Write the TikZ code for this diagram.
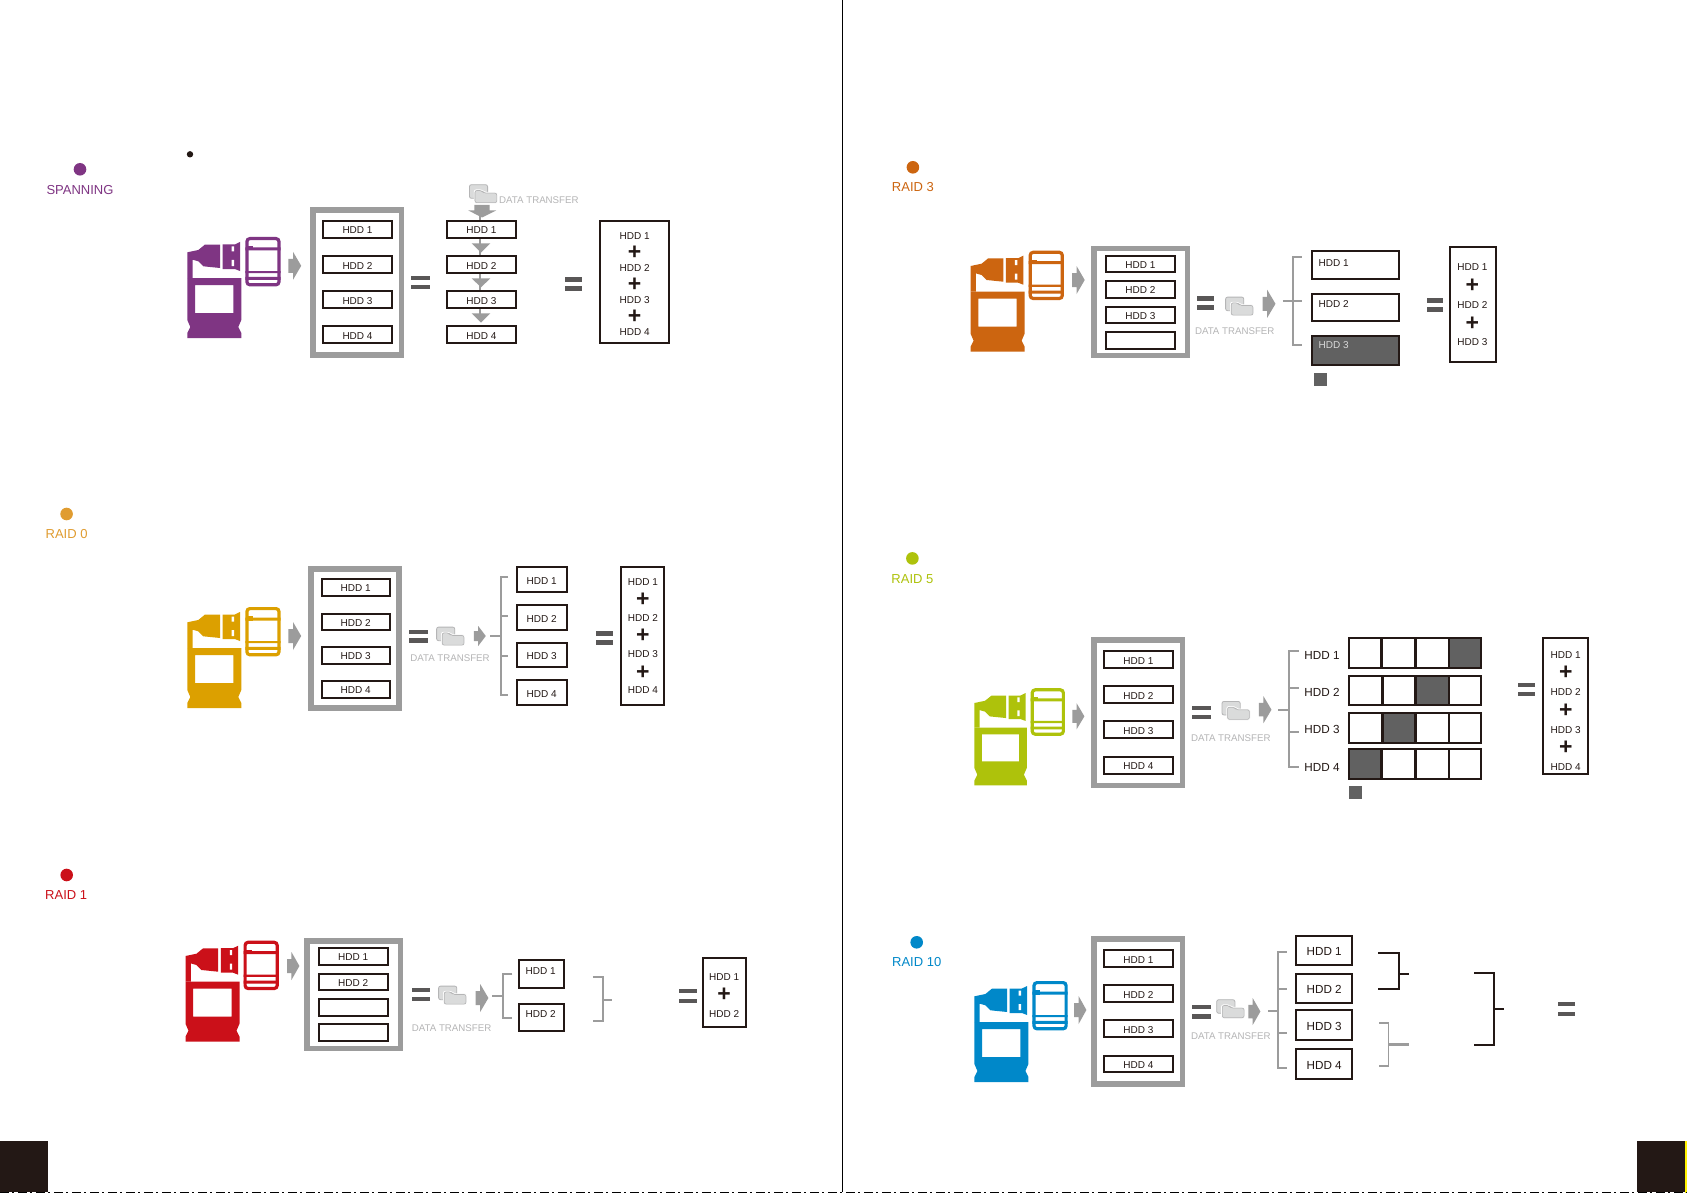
\documentclass[tikz,border=0pt]{standalone}
\usepackage{fontspec}
\setmainfont{Liberation Sans}
\usetikzlibrary{calc}
\definecolor{cpurple}{HTML}{7F3583}
\definecolor{cgold}{HTML}{DCA000}
\definecolor{cgoldlt}{HTML}{E09C30}
\definecolor{cred}{HTML}{CB1019}
\definecolor{corange}{HTML}{CC6510}
\definecolor{clime}{HTML}{AEC20B}
\definecolor{cblue}{HTML}{0088C9}
\definecolor{inkk}{HTML}{231815}
\definecolor{gframe}{HTML}{9C9C9C}
\definecolor{geq}{HTML}{595757}
\definecolor{gdark}{HTML}{616161}
\definecolor{gtext}{HTML}{B5B5B6}
\definecolor{gfold}{HTML}{DADBDB}
\tikzset{
  hddbox/.style={draw=inkk,line width=2pt,fill=white,inner sep=0pt,outer sep=0pt,text=inkk,text height=8.6pt,text depth=0pt,font=\fontsize{10}{12}\selectfont},
  darkbox/.style={hddbox,fill=gdark},
  frameb/.style={draw=gframe,line width=5.5pt,fill=white,inner sep=0pt,outer sep=0pt},
  hddtext/.style={inner sep=0pt,text=inkk,text height=8.6pt,text depth=0pt,font=\fontsize{10}{12}\selectfont},
  hddbig/.style={inner sep=0pt,text=inkk,text height=10pt,text depth=0pt,font=\fontsize{11.7}{13}\selectfont},
  plustext/.style={inner sep=0pt,text=inkk,yshift=-1pt,font=\fontsize{23}{24}\selectfont\bfseries},
  dttext/.style={inner sep=0pt,text=gtext,text height=8.2pt,text depth=0pt,font=\fontsize{9.7}{11}\selectfont},
  sectlabel/.style={inner sep=0pt,text height=11pt,text depth=0pt,font=\fontsize{13}{15}\selectfont},
  sectdot/.style={circle,inner sep=0pt,minimum size=12.6pt},
  garr/.style={fill=gframe,draw=none},
  eqbar/.style={fill=geq,draw=none},
  gbr/.style={draw=gframe,line width=2pt},
  kbr/.style={draw=inkk,line width=1.8pt},
}
% box from outer corners: name, x1,y1,x2,y2, style, text
\newcommand{\bx}[7]{%
  \pgfmathsetmacro{\bxw}{#4-#2-2}\pgfmathsetmacro{\bxh}{#5-#3-2}%
  \node[#6,minimum width=\bxw pt,minimum height=\bxh pt] (#1) at ({(#2+#4)/2},{(#3+#5)/2}) {#7};}
\newcommand{\frm}[5]{%
  \pgfmathsetmacro{\bxw}{#4-#2-5.5}\pgfmathsetmacro{\bxh}{#5-#3-5.5}%
  \node[frameb,minimum width=\bxw pt,minimum height=\bxh pt] (#1) at ({(#2+#4)/2},{(#3+#5)/2}) {};}
% right-pointing block arrow: x1,x2,cy,full height
\newcommand{\garrow}[4]{%
  \fill[garr] (#1,#3-#4/4) -- ({#1+0.36*(#2-#1)},#3-#4/4) -- ({#1+0.36*(#2-#1)},#3-#4/2) -- (#2,#3) -- ({#1+0.36*(#2-#1)},#3+#4/2) -- ({#1+0.36*(#2-#1)},#3+#4/4) -- (#1,#3+#4/4) -- cycle;}
% equal sign: x1,x2,y1,y2,y3,y4
\newcommand{\eqs}[6]{\fill[eqbar] (#1,#3) rectangle (#2,#4); \fill[eqbar] (#1,#5) rectangle (#2,#6);}
% folders at top-left
\newcommand{\folder}[2]{%
  \begin{scope}[shift={(#1,#2)}]
    \draw[fill=gfold,draw=gtext,line width=.8pt,rounded corners=2pt] (.4,.4) rectangle (18.6,14);
    \draw[fill=gfold,draw=white,line width=.8pt,rounded corners=2pt] (5.2,5.5) -- (13,5.5) -- (15,8) -- (28.4,8) -- (28.4,19) -- (5.2,19) -- cycle;
    \draw[draw=gtext,line width=.6pt,rounded corners=2pt] (6,6.2) -- (13,6.2) -- (14.6,8.8) -- (27.8,8.8) -- (27.8,18.4) -- (6,18.4) -- cycle;
  \end{scope}}
% computer + usb + device icon: colour,x,y,xscale,yscale
\newcommand{\icon}[5]{%
  \begin{scope}[shift={(#2,#3)},xscale=#4,yscale=#5]
    \fill[#1,even odd rule] (0,41) -- (54,41) -- (54,83) -- (51,90) -- (54,96) -- (54,101) -- (0,101) -- (0,96) -- (3,90) -- (0,83) -- cycle
      (7.7,48) rectangle (46,76);
    \fill[#1] (0,15.3) -- (11,13) -- (17.5,7.7) -- (32.7,7.7) -- (32.7,31) -- (16,29.3) -- (11,24.3) -- (5.3,22.7) -- (5.3,41) -- (0,41) -- cycle;
    \fill[#1] (35.3,7.5) -- (47.5,7.5) -- (52.7,5) -- (52.7,34) -- (47.5,32) -- (35.3,32) -- cycle;
    \fill[white] (44.3,9.5) rectangle (46.7,14.5) (44.3,23) rectangle (46.7,29);
    \draw[#1,line width=3.2pt,rounded corners=3pt] (59.6,1.6) rectangle (91.7,47.8);
    \fill[#1] (58,10.5) rectangle (93.3,13.5) (58,34) rectangle (93.3,36.2) (58,39.8) rectangle (93.3,42.9);
    \fill[#1] (60,9) rectangle (66,13.5);
  \end{scope}}
\newcommand{\lbl}[5]{\node[#4] (#1) at (#2,#3) {#5};}
\begin{document}
\begin{tikzpicture}[x=1pt,y=-1pt]
\path[use as bounding box,fill=white] (0,0) rectangle (1687,1193);
% page furniture
\coordinate (midT) at (842.3,0); \coordinate (midB) at (842.3,1192);
\draw[black,line width=1.1pt] (midT) -- (midB);
\node[fill=inkk,inner sep=0pt,minimum width=47.8pt,minimum height=51pt,anchor=north west] (pageL) at (0,1141) {};
\node[fill=inkk,inner sep=0pt,minimum width=48.3pt,minimum height=51pt,anchor=north west] (pageR) at (1637,1141) {};
\fill[yellow] (1685.3,1141) rectangle (1687,1193);
\coordinate (botL) at (0,1192.5); \coordinate (botR) at (1687,1192.5);
\draw[black,line width=1pt,dash pattern=on 9pt off 3pt on 2pt off 4pt] (botL) -- (botR);

%% ---------- SPANNING
\node[sectdot,fill=cpurple] (spDot) at (80,169.3) {};
\node[sectlabel,text=cpurple] (spLab) at (80,189) {SPANNING};
\node[circle,fill=inkk,inner sep=0pt,minimum size=6.4pt] (spBul) at (190,154.3) {};
\icon{cpurple}{187.3}{237}{1}{1}
\garrow{288.4}{301.2}{265.8}{28}
\frm{spF}{310}{207.3}{404}{357.7}
\bx{spA1}{322.4}{220}{392.6}{239.3}{hddbox}{HDD 1}
\bx{spA2}{322.4}{255.3}{392.6}{274.3}{hddbox}{HDD 2}
\bx{spA3}{322.4}{290.3}{392.6}{309.3}{hddbox}{HDD 3}
\bx{spA4}{322.4}{325.3}{392.6}{344.3}{hddbox}{HDD 4}
\eqs{411}{430.3}{276}{280}{285}{289.3}
\folder{469}{184.3}
\node[dttext,anchor=west] (spDT) at (499,199.3) {DATA TRANSFER};
\draw[gframe,line width=2pt] (480.3,205) -- (480.3,316);
\fill[garr] (474.4,205) -- (489.5,205) -- (489.5,210.5) -- (496,210.5) -- (482,217.5) -- (468.4,210.5) -- (474.4,210.5) -- cycle;
\bx{spB1}{446.3}{220}{516.6}{239.3}{hddbox}{HDD 1}
\bx{spB2}{446.3}{255.3}{516.6}{274.3}{hddbox}{HDD 2}
\bx{spB3}{446.3}{290.3}{516.6}{309.3}{hddbox}{HDD 3}
\bx{spB4}{446.3}{325.3}{516.6}{344.3}{hddbox}{HDD 4}
\fill[garr] (471.6,243.3) -- (490.4,243.3) -- (481,252.7) -- cycle;
\fill[garr] (471.6,278.3) -- (490.4,278.3) -- (481,287.3) -- cycle;
\fill[garr] (471.6,313.3) -- (490.4,313.3) -- (481,322.7) -- cycle;
\eqs{564.8}{582.3}{277}{281.7}{286}{291}
\bx{spS}{599.3}{220}{669.5}{344.3}{hddbox}{}
\lbl{spS1}{634.6}{235.3}{hddtext}{HDD 1}
\lbl{spP1}{634.6}{251.7}{plustext}{+}
\lbl{spS2}{634.6}{267.3}{hddtext}{HDD 2}
\lbl{spP2}{634.6}{283.7}{plustext}{+}
\lbl{spS3}{634.6}{299.3}{hddtext}{HDD 3}
\lbl{spP3}{634.6}{315.7}{plustext}{+}
\lbl{spS4}{634.6}{331.3}{hddtext}{HDD 4}

%% ---------- RAID 0
\node[sectdot,fill=cgoldlt] (r0Dot) at (66.6,514) {};
\node[sectlabel,text=cgoldlt] (r0Lab) at (66.6,533) {RAID 0};
\icon{cgold}{187.3}{607}{1}{1}
\garrow{288.4}{301.2}{636}{28}
\frm{r0F}{308}{566}{401.8}{710.7}
\bx{r0A1}{320.5}{578.3}{390.8}{596.7}{hddbox}{HDD 1}
\bx{r0A2}{320.5}{612.7}{390.8}{630.7}{hddbox}{HDD 2}
\bx{r0A3}{320.5}{646.3}{390.8}{664.7}{hddbox}{HDD 3}
\bx{r0A4}{320.5}{680.3}{390.8}{698.7}{hddbox}{HDD 4}
\eqs{408.7}{428}{629.7}{634}{638.3}{643}
\folder{436.2}{626.7}
\node[dttext] (r0DT) at (450,657.7) {DATA TRANSFER};
\garrow{473.9}{485.8}{636}{20}
\bx{r0B1}{515.7}{566.3}{567.6}{593.3}{hddbox}{HDD 1}
\bx{r0B2}{515.7}{604.3}{567.6}{631.3}{hddbox}{HDD 2}
\bx{r0B3}{515.7}{641.7}{567.6}{668.3}{hddbox}{HDD 3}
\bx{r0B4}{515.7}{679.3}{567.6}{706.3}{hddbox}{HDD 4}
\coordinate (r0c0) at (490,636); \coordinate (r0c) at (500.5,636);
\coordinate (r0c1) at (500.5,577.3); \coordinate (r0e1) at (508,577.3);
\coordinate (r0c2) at (500.5,616.3); \coordinate (r0e2) at (508,616.3);
\coordinate (r0c3) at (500.5,655.7); \coordinate (r0e3) at (508,655.7);
\coordinate (r0c4) at (500.5,695.3); \coordinate (r0e4) at (508,695.3);
\draw[gbr] (r0c0) -- (r0c); \draw[gbr] (r0e1) -- (r0c1) -- (r0c4) -- (r0e4);
\draw[gbr] (r0c2) -- (r0e2); \draw[gbr] (r0c3) -- (r0e3);
\eqs{596}{613}{631}{635.7}{640}{644.7}
\bx{r0S}{619.5}{566.3}{664.5}{706.3}{hddbox}{}
\lbl{r0S1}{642.9}{580.7}{hddtext}{HDD 1}
\lbl{r0P1}{642.9}{598.7}{plustext}{+}
\lbl{r0S2}{642.9}{617}{hddtext}{HDD 2}
\lbl{r0P2}{642.9}{635}{plustext}{+}
\lbl{r0S3}{642.9}{653.3}{hddtext}{HDD 3}
\lbl{r0P3}{642.9}{671.3}{plustext}{+}
\lbl{r0S4}{642.9}{689.3}{hddtext}{HDD 4}

%% ---------- RAID 1
\node[sectdot,fill=cred] (r1Dot) at (66.7,875) {};
\node[sectlabel,text=cred] (r1Lab) at (66.2,894) {RAID 1};
\icon{cred}{185.5}{940.7}{1}{1}
\garrow{287}{299.4}{966}{28}
\frm{r1F}{304}{938}{403}{1051}
\bx{r1A1}{317.8}{947.3}{388.5}{965.7}{hddbox}{HDD 1}
\bx{r1A2}{317.8}{972.7}{388.5}{991.3}{hddbox}{HDD 2}
\bx{r1A3}{317.8}{998.3}{388.5}{1016.7}{hddbox}{}
\bx{r1A4}{317.8}{1023.3}{388.5}{1042.3}{hddbox}{}
\eqs{411.8}{429.8}{988}{992}{996.7}{1001}
\folder{438.2}{985.7}
\node[dttext] (r1DT) at (451.6,1027) {DATA TRANSFER};
\garrow{475.5}{488.4}{998}{28}
\bx{r1B1}{518.3}{959.3}{564.5}{989.3}{hddbox}{}
\bx{r1B2}{518.3}{1003.3}{564.5}{1032.3}{hddbox}{}
\lbl{r1T1}{540.7}{970.3}{hddtext}{HDD 1}
\lbl{r1T2}{540.7}{1012.7}{hddtext}{HDD 2}
\coordinate (r1c0) at (492.4,996); \coordinate (r1c) at (503.4,996);
\coordinate (r1c1) at (503.4,973.7); \coordinate (r1e1) at (512.3,973.7);
\coordinate (r1c2) at (503.4,1018); \coordinate (r1e2) at (512.3,1018);
\draw[gbr] (r1c0) -- (r1c); \draw[gbr] (r1e1) -- (r1c1) -- (r1c2) -- (r1e2);
\coordinate (r1d1) at (592.9,977.3); \coordinate (r1f1) at (602.9,977.3);
\coordinate (r1d2) at (592.9,1021.3); \coordinate (r1f2) at (602.9,1021.3);
\coordinate (r1m) at (602.9,1000); \coordinate (r1n) at (611.8,1000);
\draw[gbr] (r1d1) -- (r1f1) -- (r1f2) -- (r1d2); \draw[gbr] (r1m) -- (r1n);
\eqs{679}{696.9}{989}{993.3}{998.7}{1003}
\bx{r1S}{702.3}{957.3}{746.6}{1028.3}{hddbox}{}
\lbl{r1S1}{724.2}{975.7}{hddtext}{HDD 1}
\lbl{r1P1}{724.2}{993.7}{plustext}{+}
\lbl{r1S2}{724.2}{1012.7}{hddtext}{HDD 2}

%% ---------- RAID 3
\node[sectdot,fill=corange] (r3Dot) at (912.9,167.3) {};
\node[sectlabel,text=corange] (r3Lab) at (912.9,186.3) {RAID 3};
\icon{corange}{970.6}{250.7}{1}{1}
\garrow{1072}{1084.7}{280}{28}
\frm{r3F}{1091.2}{246}{1190}{358}
\bx{r3A1}{1105}{254.7}{1175.7}{273.3}{hddbox}{HDD 1}
\bx{r3A2}{1105}{280.3}{1175.7}{298.7}{hddbox}{HDD 2}
\bx{r3A3}{1105}{305.7}{1175.7}{324.3}{hddbox}{HDD 3}
\bx{r3A4}{1105}{331.3}{1175.7}{349.7}{hddbox}{}
\eqs{1197}{1213.9}{296}{300.7}{305.3}{310}
\folder{1225.2}{296.7}
\node[dttext] (r3DT) at (1234.7,330) {DATA TRANSFER};
\garrow{1262.5}{1275.5}{303.8}{28}
\bx{r3B1}{1311}{250.3}{1400}{280.3}{hddbox}{}
\bx{r3B2}{1311}{292.7}{1400}{322.3}{hddbox}{}
\bx{r3B3}{1311}{335.3}{1400}{365.7}{darkbox}{}
\lbl{r3T1}{1333.6}{261.7}{hddtext}{HDD 1}
\lbl{r3T2}{1333.6}{303.3}{hddtext}{HDD 2}
\node[hddtext,text=white!85!black] (r3T3) at (1333.6,344.3) {HDD 3};
\coordinate (r3c0) at (1282.9,300.7); \coordinate (r3c) at (1293.3,300.7); \coordinate (r3e) at (1301.5,300.7);
\coordinate (r3c1) at (1293.3,257); \coordinate (r3e1) at (1301.5,257);
\coordinate (r3c3) at (1293.3,345); \coordinate (r3e3) at (1301.5,345);
\draw[gbr] (r3c0) -- (r3e); \draw[gbr] (r3e1) -- (r3c1) -- (r3c3) -- (r3e3);
\node[fill=gdark,inner sep=0pt,minimum width=13pt,minimum height=12.7pt] (r3K) at (1320.5,379.3) {};
\eqs{1426.8}{1442.9}{298}{302.7}{307}{311.7}
\bx{r3S}{1448.5}{246.3}{1496.7}{363.3}{hddbox}{}
\lbl{r3S1}{1472.4}{266}{hddtext}{HDD 1}
\lbl{r3P1}{1472.4}{285}{plustext}{+}
\lbl{r3S2}{1472.4}{303.7}{hddtext}{HDD 2}
\lbl{r3P2}{1472.4}{322.3}{plustext}{+}
\lbl{r3S3}{1472.4}{341.3}{hddtext}{HDD 3}

%% ---------- RAID 5
\node[sectdot,fill=clime] (r5Dot) at (912.4,558.4) {};
\node[sectlabel,text=clime] (r5Lab) at (912.4,577.8) {RAID 5};
\icon{clime}{974.4}{688.3}{.97}{.96}
\garrow{1072.3}{1084.4}{716.3}{26}
\frm{r5F}{1091.2}{637}{1185.2}{788}
\bx{r5A1}{1103.3}{650.3}{1173.6}{669.3}{hddbox}{HDD 1}
\bx{r5A2}{1103.3}{685.3}{1173.6}{704.3}{hddbox}{HDD 2}
\bx{r5A3}{1103.3}{720.3}{1173.6}{739.3}{hddbox}{HDD 3}
\bx{r5A4}{1103.3}{756.3}{1173.6}{774.7}{hddbox}{HDD 4}
\eqs{1191.5}{1211}{706}{710.3}{715}{719.3}
\folder{1221.6}{701}
\node[dttext] (r5DT) at (1230.8,737.3) {DATA TRANSFER};
\garrow{1258.9}{1271.5}{709.7}{27}
\coordinate (r5c0) at (1278.3,710); \coordinate (r5c) at (1289.4,710);
\coordinate (r5c1) at (1289.4,650.7); \coordinate (r5e1) at (1298.6,650.7);
\coordinate (r5c2) at (1289.4,687.7); \coordinate (r5e2) at (1298.6,687.7);
\coordinate (r5c3) at (1289.4,732.3); \coordinate (r5e3) at (1298.6,732.3);
\coordinate (r5c4) at (1289.4,766.7); \coordinate (r5e4) at (1298.6,766.7);
\draw[gbr] (r5c0) -- (r5c); \draw[gbr] (r5e1) -- (r5c1) -- (r5c4) -- (r5e4);
\draw[gbr] (r5c2) -- (r5e2); \draw[gbr] (r5c3) -- (r5e3);
\lbl{r5L1}{1322}{654}{hddbig}{HDD 1}
\lbl{r5L2}{1322}{691}{hddbig}{HDD 2}
\lbl{r5L3}{1322}{728.3}{hddbig}{HDD 3}
\lbl{r5L4}{1322}{766.3}{hddbig}{HDD 4}
% strips: row 1
\bx{r5a1}{1347.6}{637.3}{1382}{669.3}{hddbox}{}
\bx{r5a2}{1380.9}{637.3}{1416}{669.3}{hddbox}{}
\bx{r5a3}{1414.9}{637.3}{1449.5}{669.3}{hddbox}{}
\bx{r5a4}{1448.4}{637.3}{1481.9}{669.3}{darkbox}{}
% row 2
\bx{r5b1}{1347.6}{674.7}{1383}{706}{hddbox}{}
\bx{r5b2}{1381.9}{674.7}{1416}{706}{hddbox}{}
\bx{r5b3}{1414.9}{674.7}{1449.5}{706}{darkbox}{}
\bx{r5b4}{1448.4}{674.7}{1481.9}{706}{hddbox}{}
% row 3
\bx{r5c1b}{1347.6}{712.3}{1383}{743.7}{hddbox}{}
\bx{r5c2b}{1381.9}{712.3}{1416}{743.7}{darkbox}{}
\bx{r5c3b}{1414.9}{712.3}{1449.5}{743.7}{hddbox}{}
\bx{r5c4b}{1448.4}{712.3}{1481.9}{743.7}{hddbox}{}
% row 4
\bx{r5d1}{1347.6}{748.3}{1382}{779.7}{darkbox}{}
\bx{r5d2}{1380.9}{748.3}{1416}{779.7}{hddbox}{}
\bx{r5d3}{1414.9}{748.3}{1449.5}{779.7}{hddbox}{}
\bx{r5d4}{1448.4}{748.3}{1481.9}{779.7}{hddbox}{}
\node[fill=gdark,inner sep=0pt,minimum width=13pt,minimum height=13pt] (r5K) at (1355.5,792.2) {};
\eqs{1518.2}{1535.2}{683}{687.3}{691.7}{696}
\bx{r5S}{1542.4}{637.3}{1588.5}{774.7}{hddbox}{}
\lbl{r5S1}{1565.7}{653.7}{hddtext}{HDD 1}
\lbl{r5P1}{1565.7}{672}{plustext}{+}
\lbl{r5S2}{1565.7}{691.3}{hddtext}{HDD 2}
\lbl{r5P2}{1565.7}{709.7}{plustext}{+}
\lbl{r5S3}{1565.7}{728.7}{hddtext}{HDD 3}
\lbl{r5P3}{1565.7}{747}{plustext}{+}
\lbl{r5S4}{1565.7}{766.3}{hddtext}{HDD 4}

%% ---------- RAID 10
\node[sectdot,fill=cblue] (rtDot) at (916.7,942.3) {};
\node[sectlabel,text=cblue] (rtLab) at (916.7,961) {RAID 10};
\icon{cblue}{974.4}{981}{1}{1}
\garrow{1074.2}{1086.4}{1010}{28}
\frm{rtF}{1091.2}{936}{1185.2}{1086.7}
\bx{rtA1}{1103.3}{949.3}{1173.6}{968.3}{hddbox}{HDD 1}
\bx{rtA2}{1103.3}{984.3}{1173.6}{1003.3}{hddbox}{HDD 2}
\bx{rtA3}{1103.3}{1019.3}{1173.6}{1038.3}{hddbox}{HDD 3}
\bx{rtA4}{1103.3}{1055.3}{1173.6}{1073.3}{hddbox}{HDD 4}
\eqs{1191.5}{1211}{1005}{1009}{1014}{1018.7}
\folder{1216.3}{999.3}
\node[dttext] (rtDT) at (1230.8,1035.7) {DATA TRANSFER};
\garrow{1248.3}{1260.4}{1011.5}{27}
\coordinate (rtc0) at (1268,1011); \coordinate (rtc) at (1278.3,1011);
\coordinate (rtc1) at (1278.3,952); \coordinate (rte1) at (1286.5,952);
\coordinate (rtc2) at (1278.3,989.3); \coordinate (rte2) at (1286.5,989.3);
\coordinate (rtc3) at (1278.3,1033); \coordinate (rte3) at (1286.5,1033);
\coordinate (rtc4) at (1278.3,1068.3); \coordinate (rte4) at (1286.5,1068.3);
\draw[gbr] (rtc0) -- (rtc); \draw[gbr] (rte1) -- (rtc1) -- (rtc4) -- (rte4);
\draw[gbr] (rtc2) -- (rte2); \draw[gbr] (rtc3) -- (rte3);
\bx{rtB1}{1295.3}{935.3}{1353}{966.3}{hddbox,hddbig}{HDD 1}
\bx{rtB2}{1295.3}{973.3}{1353}{1004.3}{hddbox,hddbig}{HDD 2}
\bx{rtB3}{1295.3}{1009.3}{1353}{1041.3}{hddbox,hddbig}{HDD 3}
\bx{rtB4}{1295.3}{1048.3}{1353}{1080.3}{hddbox,hddbig}{HDD 4}
\coordinate (k1a) at (1378.1,952.7); \coordinate (k1b) at (1399,952.7);
\coordinate (k1c) at (1399,989.3); \coordinate (k1d) at (1378.1,989.3);
\coordinate (k1m) at (1399,974); \coordinate (k1n) at (1409.2,974);
\draw[kbr] (k1a) -- (k1b) -- (k1c) -- (k1d); \draw[kbr,line width=2.2pt] (k1m) -- (k1n);
\coordinate (g1a) at (1379.1,1022.7); \coordinate (g1b) at (1388.3,1022.7);
\coordinate (g1c) at (1388.3,1065.7); \coordinate (g1d) at (1379.1,1065.7);
\coordinate (g1m) at (1388.3,1044.3); \coordinate (g1n) at (1409.2,1044.3);
\draw[gbr,line width=1.6pt] (g1a) -- (g1b) -- (g1c) -- (g1d); \draw[gbr,line width=2.4pt] (g1m) -- (g1n);
\coordinate (k2a) at (1474.1,973.3); \coordinate (k2b) at (1494,973.3);
\coordinate (k2c) at (1494,1045); \coordinate (k2d) at (1474.1,1045);
\coordinate (k2m) at (1494,1009); \coordinate (k2n) at (1504.2,1009);
\draw[kbr] (k2a) -- (k2b) -- (k2c) -- (k2d); \draw[kbr,line width=1.4pt] (k2m) -- (k2n);
\eqs{1558}{1575}{1002}{1006.3}{1012}{1016}
\end{tikzpicture}
\end{document}
